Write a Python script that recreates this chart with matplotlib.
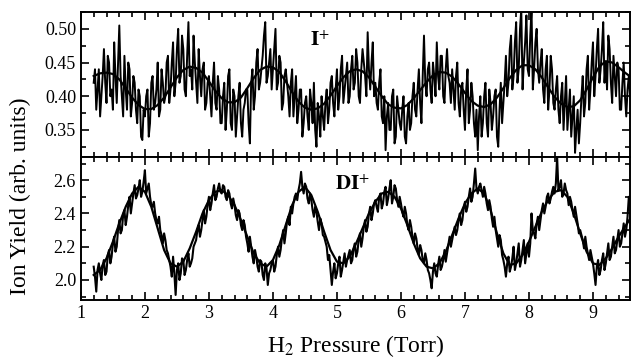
import numpy as np
import matplotlib
matplotlib.use("Agg")
import matplotlib.pyplot as plt
from matplotlib.ticker import MultipleLocator

plt.rcParams['font.family'] = ['Liberation Serif', 'DejaVu Serif']
plt.rcParams['mathtext.fontset'] = 'stix'

# measured traces: readings every 0.04 Torr from 1.20 Torr ...
pressure_a = np.round(np.arange(210) * 0.04 + 1.20, 2)
# ... and the readings in between them (from 1.22 Torr)
pressure_b = np.round(np.arange(210) * 0.04 + 1.22, 2)

i_plus_a = [
    0.42, 0.38, 0.44, 0.40, 0.47, 0.39, 0.45, 0.41, 0.48, 0.39,
    0.505, 0.40, 0.46, 0.38, 0.44, 0.39, 0.42, 0.36, 0.40, 0.335,
    0.37, 0.41, 0.36, 0.43, 0.39, 0.45, 0.38, 0.42, 0.40, 0.46,
    0.41, 0.48, 0.42, 0.50, 0.43, 0.47, 0.40, 0.51, 0.44, 0.49,
    0.42, 0.47, 0.40, 0.45, 0.39, 0.43, 0.37, 0.45, 0.38, 0.41,
    0.36, 0.42, 0.38, 0.44, 0.35, 0.40, 0.37, 0.42, 0.34, 0.39,
    0.41, 0.33, 0.44, 0.40, 0.47, 0.42, 0.46, 0.51, 0.43, 0.47,
    0.44, 0.50, 0.42, 0.45, 0.39, 0.44, 0.40, 0.42, 0.37, 0.43,
    0.38, 0.41, 0.36, 0.40, 0.35, 0.39, 0.42, 0.325, 0.37, 0.40,
    0.35, 0.41, 0.38, 0.43, 0.37, 0.44, 0.40, 0.46, 0.41, 0.45,
    0.40, 0.46, 0.42, 0.45, 0.39, 0.47, 0.43, 0.495, 0.41, 0.48,
    0.42, 0.38, 0.44, 0.36, 0.32, 0.39, 0.35, 0.41, 0.34, 0.38,
    0.35, 0.40, 0.33, 0.39, 0.36, 0.42, 0.37, 0.44, 0.36, 0.49,
    0.40, 0.45, 0.39, 0.43, 0.48, 0.41, 0.46, 0.39, 0.47, 0.42,
    0.44, 0.38, 0.45, 0.37, 0.42, 0.35, 0.44, 0.38, 0.40, 0.34,
    0.32, 0.40, 0.36, 0.42, 0.34, 0.39, 0.37, 0.41, 0.325, 0.42,
    0.39, 0.46, 0.42, 0.49, 0.43, 0.51, 0.44, 0.53, 0.45, 0.52,
    0.43, 0.53, 0.44, 0.50, 0.42, 0.47, 0.39, 0.46, 0.41, 0.44,
    0.38, 0.43, 0.36, 0.42, 0.39, 0.35, 0.41, 0.37, 0.316, 0.38,
    0.36, 0.43, 0.39, 0.46, 0.41, 0.48, 0.43, 0.50, 0.44, 0.51,
    0.45, 0.49, 0.42, 0.46, 0.40, 0.44, 0.38, 0.45, 0.37, 0.43,
]
i_plus_b = [
    0.44, 0.41, 0.37, 0.43, 0.42, 0.46, 0.40, 0.38, 0.43, 0.45,
    0.43, 0.37, 0.41, 0.45, 0.37, 0.43, 0.38, 0.41, 0.34, 0.38,
    0.40, 0.34, 0.42, 0.38, 0.41, 0.37, 0.44, 0.39, 0.45, 0.39,
    0.45, 0.40, 0.47, 0.42, 0.49, 0.41, 0.46, 0.43, 0.41, 0.45,
    0.39, 0.43, 0.44, 0.38, 0.42, 0.40, 0.42, 0.39, 0.43, 0.36,
    0.40, 0.35, 0.43, 0.36, 0.41, 0.34, 0.40, 0.36, 0.38, 0.41,
    0.36, 0.42, 0.38, 0.45, 0.41, 0.44, 0.49, 0.42, 0.45, 0.41,
    0.47, 0.41, 0.46, 0.38, 0.43, 0.42, 0.37, 0.44, 0.40, 0.36,
    0.41, 0.34, 0.39, 0.37, 0.41, 0.36, 0.35, 0.39, 0.34, 0.37,
    0.39, 0.36, 0.42, 0.39, 0.41, 0.38, 0.44, 0.39, 0.43, 0.39,
    0.44, 0.41, 0.47, 0.40, 0.44, 0.45, 0.40, 0.44, 0.45, 0.40,
    0.39, 0.42, 0.37, 0.40, 0.37, 0.35, 0.40, 0.33, 0.40, 0.36,
    0.38, 0.34, 0.37, 0.35, 0.40, 0.38, 0.41, 0.39, 0.43, 0.42,
    0.44, 0.41, 0.45, 0.40, 0.43, 0.46, 0.40, 0.44, 0.43, 0.39,
    0.41, 0.43, 0.39, 0.41, 0.38, 0.41, 0.36, 0.42, 0.36, 0.38,
    0.37, 0.34, 0.40, 0.36, 0.41, 0.35, 0.40, 0.34, 0.38, 0.36,
    0.42, 0.40, 0.47, 0.41, 0.48, 0.42, 0.50, 0.41, 0.48, 0.44,
    0.49, 0.41, 0.48, 0.44, 0.45, 0.41, 0.44, 0.38, 0.46, 0.39,
    0.41, 0.38, 0.40, 0.35, 0.43, 0.38, 0.34, 0.40, 0.35, 0.33,
    0.40, 0.37, 0.44, 0.38, 0.45, 0.40, 0.47, 0.42, 0.47, 0.42,
    0.41, 0.47, 0.39, 0.43, 0.45, 0.38, 0.42, 0.40, 0.41, 0.40,
]

di_plus_a = [
    2.08, 1.93, 2.10, 2.00, 2.12, 2.05, 2.18, 2.14, 2.26, 2.20,
    2.36, 2.30, 2.42, 2.38, 2.50, 2.46, 2.57, 2.51, 2.60, 2.53,
    2.66, 2.55, 2.50, 2.44, 2.40, 2.34, 2.30, 2.22, 2.24, 2.16,
    2.08, 2.14, 1.91, 2.10, 2.04, 2.12, 2.06, 2.16, 2.10, 2.20,
    2.24, 2.33, 2.30, 2.42, 2.38, 2.50, 2.46, 2.57, 2.50, 2.58,
    2.52, 2.56, 2.48, 2.52, 2.43, 2.45, 2.36, 2.40, 2.30, 2.33,
    2.22, 2.26, 2.14, 2.18, 2.08, 2.12, 2.03, 2.10, 1.97, 2.06,
    2.12, 2.08, 2.20, 2.18, 2.30, 2.28, 2.38, 2.44, 2.46, 2.52,
    2.54, 2.65, 2.52, 2.56, 2.46, 2.48, 2.38, 2.41, 2.30, 2.34,
    2.26, 2.20, 2.15, 1.97, 2.10, 2.04, 2.14, 2.06, 2.16, 2.12,
    2.18, 2.12, 2.22, 2.17, 2.28, 2.25, 2.36, 2.32, 2.44, 2.40,
    2.48, 2.41, 2.52, 2.46, 2.56, 2.49, 2.60, 2.50, 2.55, 2.44,
    2.46, 2.38, 2.40, 2.30, 2.32, 2.22, 2.25, 2.15, 2.18, 2.10,
    2.12, 2.04, 1.95, 2.10, 2.02, 2.14, 2.08, 2.18, 2.16, 2.26,
    2.24, 2.32, 2.30, 2.40, 2.36, 2.47, 2.44, 2.55, 2.50, 2.67,
    2.52, 2.58, 2.50, 2.52, 2.42, 2.44, 2.32, 2.30, 2.20, 2.24,
    2.12, 2.02, 2.14, 2.08, 2.20, 2.10, 2.22, 2.12, 2.24, 2.16,
    2.14, 2.40, 2.28, 2.34, 2.30, 2.42, 2.40, 2.50, 2.46, 2.53,
    2.52, 2.74, 2.56, 2.50, 2.58, 2.52, 2.50, 2.42, 2.44, 2.34,
    2.30, 2.24, 2.26, 2.16, 2.18, 2.10, 1.97, 2.12, 2.06, 2.16,
    2.10, 2.22, 2.14, 2.26, 2.18, 2.30, 2.22, 2.34, 2.30, 2.50,
]
di_plus_b = [
    2.02, 2.06, 2.04, 2.09, 2.03, 2.15, 2.10, 2.22, 2.17, 2.30,
    2.28, 2.39, 2.33, 2.45, 2.40, 2.52, 2.49, 2.55, 2.50, 2.59,
    2.52, 2.58, 2.45, 2.47, 2.36, 2.38, 2.27, 2.28, 2.18, 2.12,
    2.02, 2.04, 2.06, 2.00, 2.13, 2.03, 2.12, 2.08, 2.13, 2.22,
    2.30, 2.26, 2.36, 2.34, 2.45, 2.42, 2.52, 2.48, 2.55, 2.53,
    2.57, 2.50, 2.54, 2.46, 2.49, 2.39, 2.42, 2.33, 2.36, 2.26,
    2.17, 2.20, 2.10, 2.14, 2.05, 2.11, 2.00, 2.07, 2.04, 2.10,
    2.05, 2.15, 2.14, 2.25, 2.22, 2.35, 2.33, 2.40, 2.50, 2.48,
    2.58, 2.56, 2.58, 2.49, 2.52, 2.42, 2.44, 2.35, 2.37, 2.27,
    2.23, 2.12, 2.06, 2.05, 2.01, 2.10, 2.02, 2.11, 2.08, 2.15,
    2.10, 2.19, 2.14, 2.24, 2.20, 2.32, 2.29, 2.40, 2.36, 2.46,
    2.44, 2.50, 2.43, 2.53, 2.45, 2.55, 2.46, 2.57, 2.48, 2.50,
    2.41, 2.44, 2.33, 2.36, 2.26, 2.28, 2.19, 2.21, 2.12, 2.16,
    2.06, 2.00, 2.05, 2.04, 2.09, 2.06, 2.12, 2.11, 2.21, 2.20,
    2.28, 2.27, 2.36, 2.33, 2.43, 2.41, 2.50, 2.47, 2.58, 2.55,
    2.56, 2.54, 2.56, 2.46, 2.48, 2.37, 2.38, 2.25, 2.27, 2.15,
    2.08, 2.10, 2.05, 2.13, 2.06, 2.16, 2.08, 2.18, 2.10, 2.22,
    2.22, 2.30, 2.25, 2.38, 2.36, 2.46, 2.44, 2.52, 2.49, 2.56,
    2.58, 2.54, 2.60, 2.52, 2.54, 2.45, 2.47, 2.38, 2.39, 2.28,
    2.27, 2.19, 2.20, 2.12, 2.14, 2.04, 2.08, 2.03, 2.12, 2.06,
    2.16, 2.12, 2.20, 2.16, 2.24, 2.20, 2.28, 2.26, 2.38, 2.45,
]

# smooth fits, every 0.1 Torr from 1.2 to 9.6
pressure_fit = np.round(np.arange(85) * 0.1 + 1.2, 1)

i_plus_fit = [
    0.430, 0.434, 0.435, 0.433, 0.425, 0.412, 0.398, 0.387, 0.381, 0.381,
    0.387, 0.398, 0.413, 0.428, 0.439, 0.444, 0.442, 0.435, 0.422, 0.408,
    0.397, 0.391, 0.391, 0.398, 0.412, 0.427, 0.439, 0.444, 0.443, 0.436,
    0.422, 0.406, 0.392, 0.383, 0.380, 0.382, 0.389, 0.401, 0.415, 0.428,
    0.437, 0.440, 0.437, 0.428, 0.414, 0.400, 0.388, 0.383, 0.382, 0.387,
    0.397, 0.409, 0.421, 0.431, 0.436, 0.435, 0.429, 0.418, 0.405, 0.393,
    0.386, 0.384, 0.388, 0.398, 0.412, 0.427, 0.439, 0.446, 0.446, 0.440,
    0.428, 0.413, 0.399, 0.389, 0.384, 0.385, 0.394, 0.410, 0.428, 0.444,
    0.452, 0.450, 0.443, 0.435, 0.428,
]

di_plus_fit = [
    2.03, 2.06, 2.13, 2.23, 2.34, 2.44, 2.52, 2.56, 2.53, 2.44,
    2.31, 2.18, 2.10, 2.08, 2.11, 2.19, 2.29, 2.40, 2.48, 2.53,
    2.54, 2.51, 2.45, 2.36, 2.26, 2.16, 2.10, 2.08, 2.12, 2.21,
    2.33, 2.45, 2.53, 2.56, 2.51, 2.41, 2.29, 2.18, 2.11, 2.10,
    2.14, 2.22, 2.31, 2.40, 2.47, 2.52, 2.53, 2.50, 2.43, 2.33,
    2.22, 2.13, 2.08, 2.07, 2.10, 2.17, 2.27, 2.37, 2.46, 2.52,
    2.55, 2.52, 2.42, 2.28, 2.16, 2.09, 2.10, 2.15, 2.23, 2.32,
    2.41, 2.48, 2.53, 2.54, 2.50, 2.40, 2.28, 2.17, 2.10, 2.09,
    2.13, 2.19, 2.26, 2.32, 2.38,
]


def merge(xa, ya, xb, yb):
    # put the two sets of readings back in pressure order
    x = np.empty(len(xa) + len(xb))
    y = np.empty(len(ya) + len(yb))
    x[0::2], x[1::2] = xa, xb
    y[0::2], y[1::2] = ya, yb
    return x, y


p_raw, i_raw = merge(pressure_a, i_plus_a, pressure_b, i_plus_b)
_, di_raw = merge(pressure_a, di_plus_a, pressure_b, di_plus_b)

fig = plt.figure(figsize=(6.32, 3.64), dpi=100)
ax1 = fig.add_axes([0.128, 0.569, 0.869, 0.398])
ax2 = fig.add_axes([0.128, 0.176, 0.869, 0.393], sharex=ax1)

ax1.plot(p_raw, i_raw, color='black', lw=1.4)
ax1.plot(pressure_fit, i_plus_fit, color='black', lw=1.6)
ax2.plot(p_raw, di_raw, color='black', lw=1.5)
ax2.plot(pressure_fit, di_plus_fit, color='black', lw=1.6)

ax1.set_xlim(1.0, 9.58)
ax1.set_ylim(0.31, 0.525)
ax2.set_ylim(1.88, 2.74)

ax1.yaxis.set_major_locator(MultipleLocator(0.05))
ax1.yaxis.set_minor_locator(MultipleLocator(0.025))
ax2.yaxis.set_major_locator(MultipleLocator(0.2))
ax2.yaxis.set_minor_locator(MultipleLocator(0.1))
ax2.xaxis.set_major_locator(MultipleLocator(1))
ax2.xaxis.set_minor_locator(MultipleLocator(0.2))

for ax in (ax1, ax2):
    for sp in ax.spines.values():
        sp.set_linewidth(1.4)
    ax.tick_params(which='both', direction='in', top=True, right=True,
                   width=1.2, labelsize=13)
    ax.tick_params(which='major', length=6)
    ax.tick_params(which='minor', length=3.5)

ax1.yaxis.set_major_formatter(plt.FormatStrFormatter('%.2f'))
ax2.yaxis.set_major_formatter(plt.FormatStrFormatter('%.1f'))
ax1.tick_params(labelbottom=False)

ax1.text(0.418, 0.80, r'$\mathbf{I}^{+}$', transform=ax1.transAxes,
         fontsize=15, ha='left', va='center')
ax2.text(0.462, 0.80, r'$\mathbf{DI}^{+}$', transform=ax2.transAxes,
         fontsize=15, ha='left', va='center')

ax2.set_xlabel('H$_2$ Pressure (Torr)', fontsize=17, labelpad=8)
fig.text(0.032, 0.46, 'Ion Yield (arb. units)', rotation=90,
         fontsize=17, ha='center', va='center')

fig.savefig('out.png', dpi=100)
